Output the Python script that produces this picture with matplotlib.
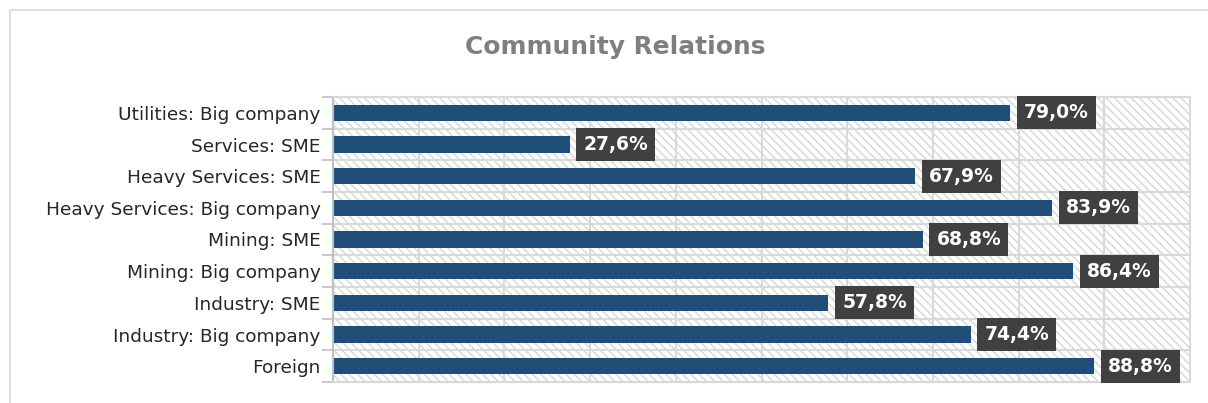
import matplotlib
matplotlib.use("Agg")
import matplotlib.pyplot as plt
from matplotlib.patches import Rectangle

categories = ["Foreign", "Industry: Big company", "Industry: SME", "Mining: Big company",
              "Mining: SME", "Heavy Services: Big company", "Heavy Services: SME",
              "Services: SME", "Utilities: Big company"]
values = [88.8, 74.4, 57.8, 86.4, 68.8, 83.9, 67.9, 27.6, 79.0]

W, H = 1208, 403
fig = plt.figure(figsize=(W / 100, H / 100), dpi=100)
plt.rcParams['hatch.linewidth'] = 1.0
plt.rcParams['hatch.color'] = '#D9D9D9'

# outer chart border
fig.patches.append(Rectangle((10 / W, -0.1), 1.2, 1 - 10 / H + 0.1, transform=fig.transFigure,
                             fill=False, edgecolor='#D9D9D9', linewidth=1.2))

ax = fig.add_axes([333 / W, 1 - 382 / H, (1190 - 333) / W, (382 - 97) / H])
ax.set_xlim(0, 100)
ax.set_ylim(-0.5, len(categories) - 0.5)

# hatched plot background
ax.add_patch(Rectangle((0, 0), 1, 1, transform=ax.transAxes, facecolor='white',
                       hatch='\\\\\\\\', edgecolor='#D6D6D6', linewidth=0, zorder=0))

for x in range(10, 100, 10):
    ax.axvline(x, color='#D9D9D9', lw=1.5, zorder=1)
for i in range(len(categories) - 1):
    ax.axhline(i + 0.5, color='#D9D9D9', lw=1.5, zorder=1)

y = list(range(len(categories)))
ax.barh(y, values, height=0.52, color='#1F4E79', zorder=2)

for yi, v in zip(y, values):
    ax.annotate(f"{v:.1f}%".replace('.', ','), (v, yi), xytext=(10, 0), textcoords='offset points',
                ha='left', va='center', color='white', fontsize=13.5, fontweight='bold',
                bbox=dict(boxstyle='square,pad=0.38', facecolor='#404040', edgecolor='none'),
                zorder=3)

ax.set_yticks(y)
ax.set_yticklabels(categories, fontsize=13.3, color='#262626')
ax.tick_params(axis='y', which='major', length=0, pad=9)
ax.set_yticks([i - 0.5 for i in range(len(categories) + 1)], minor=True)
ax.tick_params(axis='y', which='minor', length=8, color='#BFBFBF', width=1.2)
ax.set_xticks([])

for s in ax.spines.values():
    s.set_color('#D9D9D9')
    s.set_linewidth(1.5)
ax.spines['left'].set_color('#BFBFBF')

fig.text(615 / W, 1 - 47 / H, "Community Relations", ha='center', va='center',
         fontsize=17.9, fontweight='bold', color='#7F7F7F')

fig.savefig("out.png", dpi=100)
